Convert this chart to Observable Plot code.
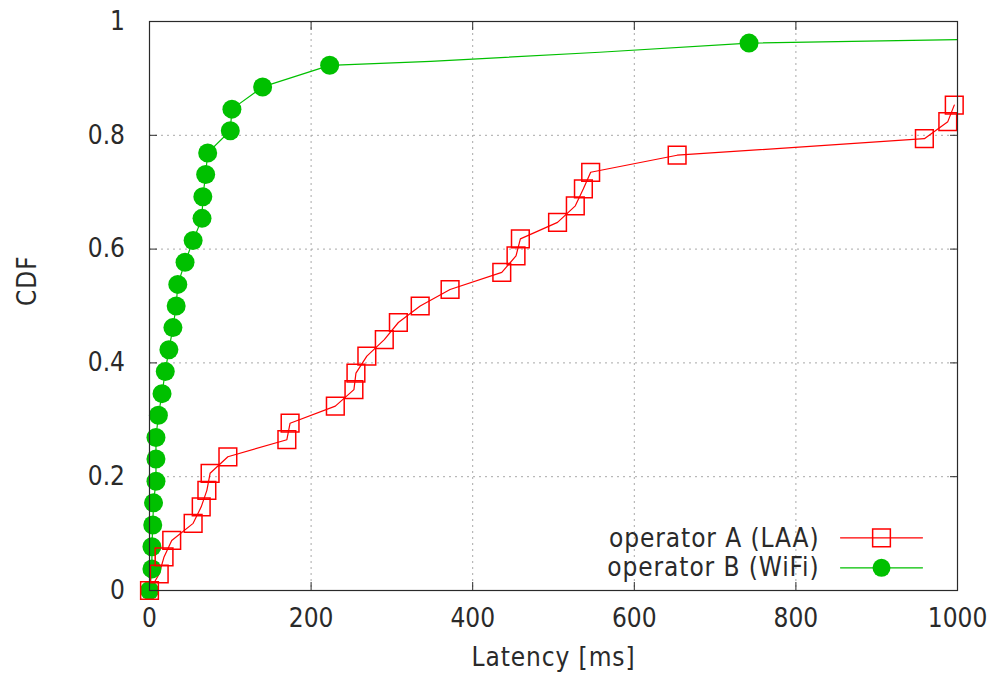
<!DOCTYPE html>
<html>
<head>
<meta charset="utf-8">
<script src="https://cdn.jsdelivr.net/npm/d3@7"></script>
<script src="https://cdn.jsdelivr.net/npm/@observablehq/plot@0.6"></script>
<style>
  html, body { margin: 0; padding: 0; background: #fff; }
  #chart svg { display: block; }
</style>
</head>
<body>
<div id="chart"></div>
<script>
// ---- data ----
const laaLatency = [0, 12, 18, 27.5, 54, 64, 71, 75, 97, 170, 174, 230, 253, 255.5, 269, 290.6, 308, 335, 372, 436, 453.6, 459, 505, 527, 537, 546, 653, 959, 988, 996];
const laaCdf = [0, 0.029, 0.059, 0.088, 0.118, 0.147, 0.176, 0.206, 0.235, 0.265, 0.294, 0.324, 0.353, 0.382, 0.412, 0.441, 0.471, 0.5, 0.529, 0.559, 0.588, 0.618, 0.647, 0.676, 0.706, 0.735, 0.765, 0.794, 0.824, 0.853];

const wifiLatency = [0, 3, 3, 4, 5, 8, 8, 8, 11, 15.5, 19.5, 24, 29, 33, 35, 44, 54, 65, 66, 69.5, 72, 100, 102, 140, 223, 742];
const wifiCdf = [0, 0.038, 0.077, 0.115, 0.154, 0.192, 0.231, 0.269, 0.308, 0.346, 0.385, 0.423, 0.462, 0.5, 0.538, 0.577, 0.615, 0.654, 0.692, 0.731, 0.769, 0.808, 0.846, 0.885, 0.923, 0.962];
// line-only samples of the WiFi curve between/after the markers
const wifiLineLatency = [348, 557, 1000];
const wifiLineCdf = [0.930, 0.946, 0.968];

const xTicks = [0, 200, 400, 600, 800, 1000];
const yTicks = [0, 0.2, 0.4, 0.6, 0.8, 1];
const yTickLabels = ["0", "0.2", "0.4", "0.6", "0.8", "1"];
const seriesNames = ["operator A (LAA)", "operator B (WiFi)"];
const seriesColors = ["#ff0000", "#00c000"];
const xLabel = "Latency [ms]";
const yLabel = "CDF";

// ---- tables built from the arrays ----
const laa = laaLatency.map((x, i) => ({x, y: laaCdf[i]}));
const wifi = wifiLatency.map((x, i) => ({x, y: wifiCdf[i]}));
const wifiLine = wifi.concat(wifiLineLatency.map((x, i) => ({x, y: wifiLineCdf[i]})))
  .sort((a, b) => a.x - b.x || a.y - b.y);

const lineShape = {draw(context, l) { context.moveTo(0, 0); context.lineTo(0, -l); }};
const ink = "#2a2a2a";
const fs = 26;
const gridStyle = {stroke: "#a8a8a8", strokeOpacity: 1, strokeDasharray: "2,4", strokeWidth: 1};

const chart = Plot.plot({
  width: 990,
  height: 674,
  marginLeft: 149,
  marginRight: 33,
  marginTop: 21,
  marginBottom: 84,
  style: {fontFamily: "'DejaVu Sans Condensed', 'DejaVu Sans', sans-serif", fontStretch: "condensed", fontSize: fs + "px", color: ink, background: "#fff"},
  x: {domain: [0, 1000], label: null},
  y: {domain: [0, 1], label: null},
  marks: [
    Plot.gridX(xTicks.slice(1, -1), gridStyle),
    Plot.gridY(yTicks.slice(1, -1), gridStyle),
    // inward ticks on all four sides
    Plot.axisX(xTicks, {anchor: "bottom", tickSize: 8, dy: -8, fill: "none", stroke: ink}),
    Plot.axisX(xTicks, {anchor: "top", tickSize: 8, dy: 8, fill: "none", stroke: ink}),
    Plot.axisY(yTicks, {anchor: "left", tickSize: 8, dx: 8, fill: "none", stroke: ink}),
    Plot.axisY(yTicks, {anchor: "right", tickSize: 8, dx: -8, fill: "none", stroke: ink}),
    // tick labels
    Plot.axisX(xTicks, {anchor: "bottom", tickSize: 0, tickPadding: 18, label: null, fontSize: fs, fill: ink,
      tickFormat: d => String(d)}),
    Plot.axisY(yTicks, {anchor: "left", tickSize: 0, tickPadding: 24.5, label: null, fontSize: fs, fill: ink,
      tickFormat: d => yTickLabels[yTicks.indexOf(d)]}),
    // series
    Plot.line(wifiLine, {x: "x", y: "y", stroke: seriesColors[1], strokeWidth: 1.2}),
    Plot.line(laa, {x: "x", y: "y", stroke: seriesColors[0], strokeWidth: 1.2}),
    Plot.dot(wifi, {x: "x", y: "y", r: 9.5, fill: seriesColors[1], stroke: "none"}),
    Plot.dot(laa, {x: "x", y: "y", r: 10, symbol: "square", fill: "none", stroke: seriesColors[0], strokeWidth: 1.5}),
    Plot.frame({stroke: ink, strokeWidth: 1.2}),
    // axis titles
    Plot.text([xLabel], {frameAnchor: "bottom", lineAnchor: "top", dy: 57, fontSize: fs, fill: ink}),
    Plot.text([yLabel], {frameAnchor: "left", rotate: -90, lineAnchor: "middle", dx: -122, fontSize: fs, fill: ink}),
    // legend
    Plot.text([seriesNames[0]], {frameAnchor: "bottom-right", textAnchor: "end", lineAnchor: "middle", dx: -138, dy: -51.8, fontSize: fs, fill: ink}),
    Plot.text([seriesNames[1]], {frameAnchor: "bottom-right", textAnchor: "end", lineAnchor: "middle", dx: -138, dy: -22.8, fontSize: fs, fill: ink}),
    Plot.vector([0], {x: null, y: null, frameAnchor: "bottom-right", dx: -76, dy: -52.7, rotate: 90, length: 82, anchor: "middle", shape: lineShape, stroke: seriesColors[0], strokeWidth: 1.2}),
    Plot.vector([0], {x: null, y: null, frameAnchor: "bottom-right", dx: -76, dy: -22.7, rotate: 90, length: 82, anchor: "middle", shape: lineShape, stroke: seriesColors[1], strokeWidth: 1.2}),
    Plot.dot([0], {x: null, y: null, frameAnchor: "bottom-right", dx: -76, dy: -52.7, r: 10, symbol: "square", fill: "none", stroke: seriesColors[0], strokeWidth: 1.5}),
    Plot.dot([0], {x: null, y: null, frameAnchor: "bottom-right", dx: -76, dy: -22.7, r: 9, fill: seriesColors[1], stroke: "none"})
  ]
});

d3.select(chart).selectAll("g[aria-label='text'] text").attr("letter-spacing", "0.9px");
document.getElementById("chart").append(chart);
</script>
</body>
</html>
